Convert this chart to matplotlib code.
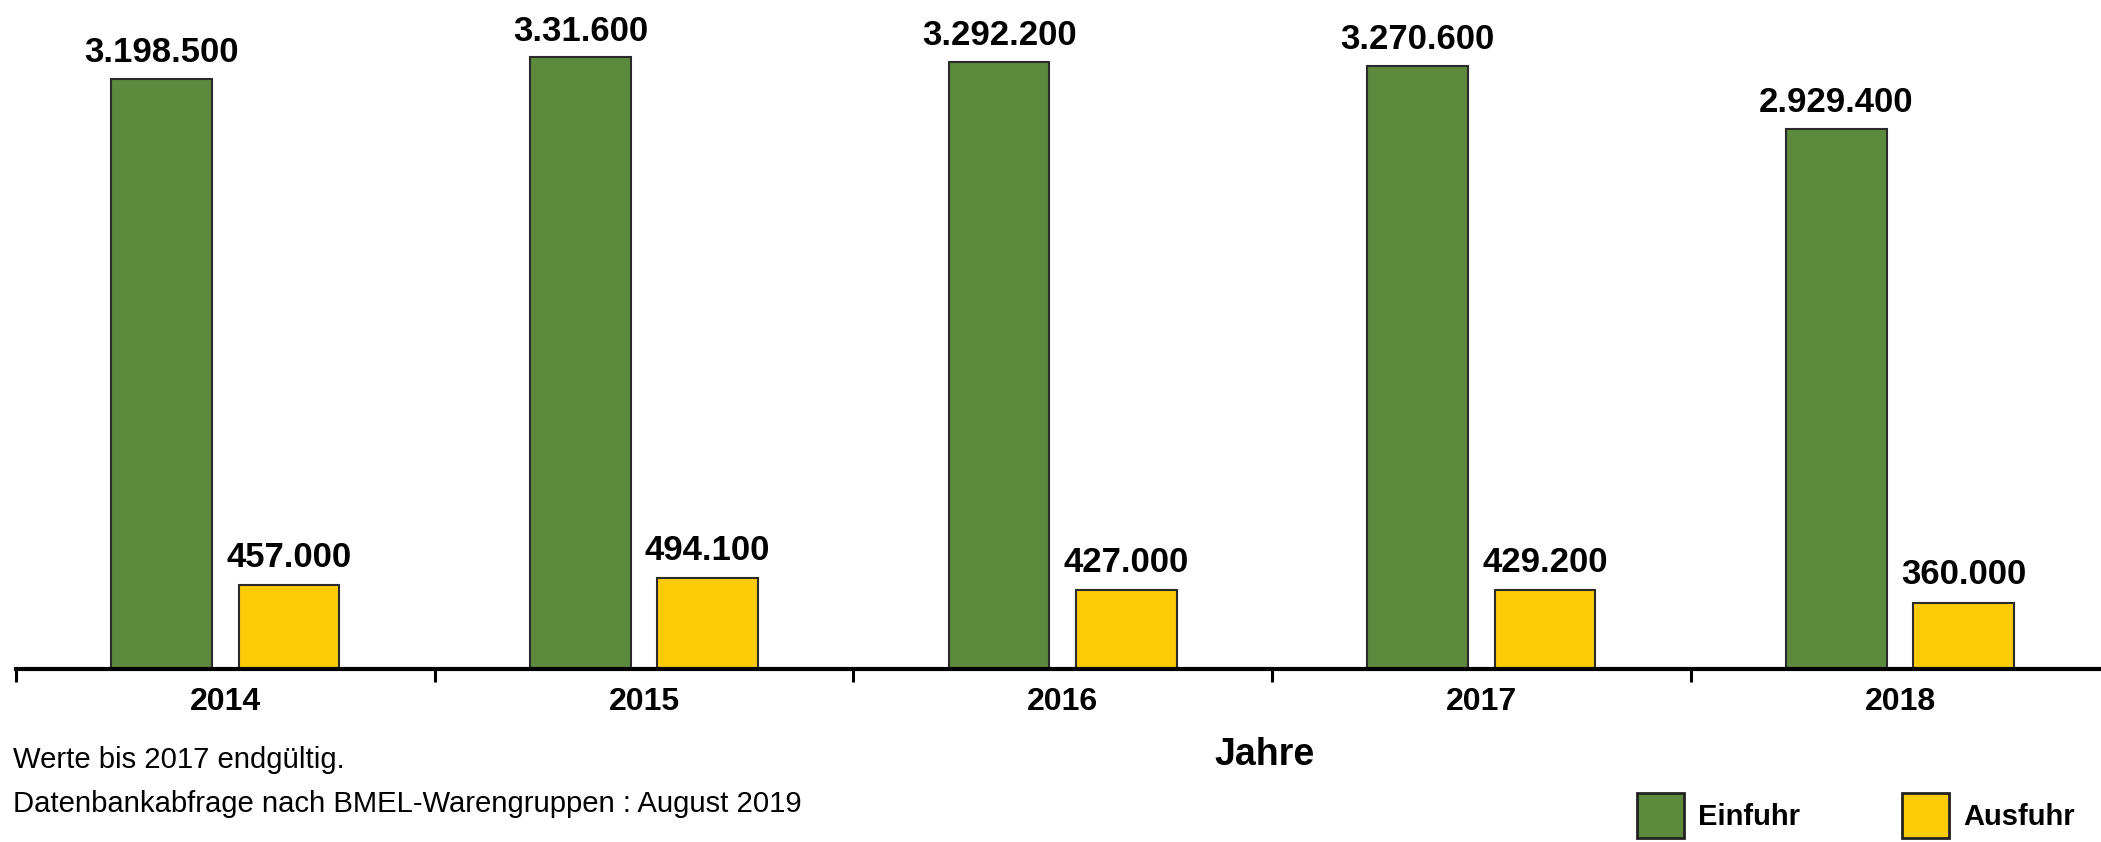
import numpy as np
import matplotlib
matplotlib.use("Agg")
import matplotlib.pyplot as plt

plt.rcParams["font.family"] = ["Liberation Sans", "DejaVu Sans"]

# Daten
years = ["2014", "2015", "2016", "2017", "2018"]
einfuhr = [3198500, 3316000, 3292200, 3270600, 2929400]
ausfuhr = [457000, 494100, 427000, 429200, 360000]
einfuhr_labels = ["3.198.500", "3.31.600", "3.292.200", "3.270.600", "2.929.400"]
ausfuhr_labels = ["457.000", "494.100", "427.000", "429.200", "360.000"]

GREEN = "#5C8B3D"
YELLOW = "#FDCB07"

W, H = 2101, 842
fig = plt.figure(figsize=(W / 100, H / 100), dpi=100)
ax = fig.add_axes([16 / W, 1 - 669 / H, 1 - 16 / W, 669 / H])

x = np.arange(len(years))
bw = 0.24
off = 0.152
b1 = ax.bar(x - off, einfuhr, bw, color=GREEN, edgecolor="#2b2b2b", linewidth=1.5, label="Einfuhr")
b2 = ax.bar(x + off, ausfuhr, bw, color=YELLOW, edgecolor="#2b2b2b", linewidth=1.5, label="Ausfuhr")

for xi, v, t in zip(x - off, einfuhr, einfuhr_labels):
    ax.annotate(t, (xi, v), xytext=(0, 7), textcoords="offset points",
                ha="center", va="bottom", fontsize=25, fontweight="bold")
for xi, v, t in zip(x + off, ausfuhr, ausfuhr_labels):
    ax.annotate(t, (xi, v), xytext=(0, 8), textcoords="offset points",
                ha="center", va="bottom", fontsize=25, fontweight="bold")

ax.set_xlim(-0.5, 4.48)
ax.set_ylim(0, 3627000)

for s in ["left", "top", "right"]:
    ax.spines[s].set_visible(False)
ax.spines["bottom"].set_linewidth(3)
ax.set_yticks([])

# Trennstriche zwischen den Jahren, Beschriftung in der Mitte
ax.set_xticks(np.arange(-0.5, 4.0, 1.0))
ax.set_xticklabels([])
ax.tick_params(axis="x", which="major", length=9, width=2.2, direction="out")
ax.set_xticks(x, minor=True)
ax.set_xticklabels(years, minor=True, fontsize=23, fontweight="bold")
ax.tick_params(axis="x", which="minor", length=0, pad=13)

fig.text(1265 / W, 1 - 765 / H, "Jahre", ha="center", va="baseline",
         fontsize=27, fontweight="bold")
fig.text(13 / W, 1 - 768 / H, "Werte bis 2017 endgültig.", ha="left",
         va="baseline", fontsize=21.1)
fig.text(13 / W, 1 - 812 / H, "Datenbankabfrage nach BMEL-Warengruppen : August 2019",
         ha="left", va="baseline", fontsize=21.1)

leg = fig.legend(handles=[b1, b2], loc="upper left",
                 bbox_to_anchor=(1637 / W, 1 - 793 / H), ncol=2, frameon=False,
                 prop={"size": 21, "weight": "bold"}, borderpad=0,
                 borderaxespad=0, handlelength=1.6, handleheight=2.0,
                 handletextpad=0.5, columnspacing=3.5)
for p in leg.get_patches():
    p.set_edgecolor("#222222")
    p.set_linewidth(2)

fig.savefig("out.png", dpi=100)
